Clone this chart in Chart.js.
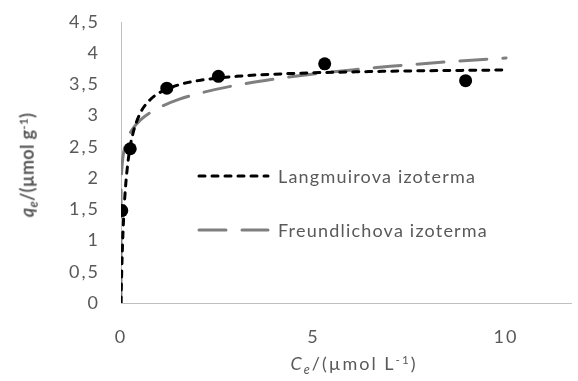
<!DOCTYPE html>
<html>
<head>
<meta charset="utf-8">
<script src="https://cdn.jsdelivr.net/npm/chart.js@4.4.1/dist/chart.umd.min.js"></script>
<style>
  html, body { margin: 0; padding: 0; background: #fff; }
  #wrap { position: relative; width: 578px; height: 381px; overflow: hidden; }
  #c { position: absolute; left: 0; top: 0; }
  .ttl { position: absolute; color: #595959; font-family: Lato, "Open Sans", sans-serif; font-size: 18px; white-space: nowrap; line-height: 1; }
  #xt { left: 354px; top: 363px; transform: translate(-50%, -50%); letter-spacing: 2px; }
  #yt { left: 27px; top: 165px; transform: translate(-50%, -50%) rotate(-90deg); font-weight: bold; letter-spacing: 0.3px; }
  .sub { font-size: 0.7em; position: relative; top: 0.3em; }
  .sup { font-size: 0.65em; position: relative; top: -0.5em; }
</style>
</head>
<body>
<div id="wrap">
  <canvas id="c" width="578" height="381"></canvas>
  <div class="ttl" id="xt"><i>C</i><i class="sub">e</i>/(µmol L<span class="sup">-1</span>)</div>
  <div class="ttl" id="yt"><i>q</i><i class="sub">e</i>/(µmol g<span class="sup">-1</span>)</div>
</div>
<script>
const expC = [0.02, 0.24, 1.19, 2.53, 5.29, 8.95];
const expQ = [1.48, 2.47, 3.44, 3.63, 3.83, 3.56];

// fitted curves
const fitC = [0, 0.001, 0.005, 0.01, 0.02, 0.05, 0.1, 0.2, 0.3, 0.5, 0.75, 1, 1.5, 2, 3, 4, 5, 6, 7, 8, 9, 10];
const langmuirQ = [0, 0.031, 0.150, 0.288, 0.535, 1.104, 1.708, 2.352, 2.690, 3.040, 3.251, 3.368, 3.494, 3.561, 3.630, 3.665, 3.687, 3.701, 3.712, 3.720, 3.726, 3.731];
const freundlichQ = [0, 1.594, 1.866, 1.997, 2.137, 2.337, 2.501, 2.677, 2.785, 2.928, 3.046, 3.133, 3.260, 3.353, 3.488, 3.588, 3.667, 3.733, 3.790, 3.840, 3.884, 3.924];

const xTicks = [0, 5, 10];
const legendNames = ['Langmuirova izoterma', 'Freundlichova izoterma'];

const FONT = 'Lato, "Open Sans", sans-serif';
const TEXT = '#595959';
const AXIS = '#bfbfbf';

const toXY = (xs, ys) => xs.map((x, i) => ({ x, y: ys[i] }));
const comma = v => String(v).replace('.', ',');

// Excel text looks loosely spaced, mimic it
const spacing = {
  id: 'spacing',
  beforeLayout(chart) { chart.ctx.letterSpacing = '2px'; },
  beforeDraw(chart) { chart.ctx.letterSpacing = '2px'; }
};

// legend drawn inside plot, Excel style
const insideLegend = {
  id: 'insideLegend',
  afterDatasetsDraw(chart) {
    const ctx = chart.ctx;
    const rows = [
      { ds: chart.data.datasets[1], y: 176 },
      { ds: chart.data.datasets[2], y: 230 }
    ];
    ctx.save();
    rows.forEach(r => {
      ctx.beginPath();
      ctx.strokeStyle = r.ds.borderColor;
      ctx.lineWidth = r.ds.borderWidth;
      ctx.lineCap = 'round';
      ctx.setLineDash(r.ds.borderDash);
      ctx.moveTo(199, r.y);
      ctx.lineTo(268, r.y);
      ctx.stroke();
      ctx.setLineDash([]);
      ctx.fillStyle = TEXT;
      ctx.font = '18px ' + FONT;
      ctx.letterSpacing = '1.2px';
      ctx.textBaseline = 'middle';
      ctx.textAlign = 'left';
      ctx.fillText(r.ds.label, 278, r.y + 1);
    });
    ctx.restore();
  }
};

new Chart(document.getElementById('c'), {
  type: 'scatter',
  data: {
    datasets: [
      {
        label: 'data',
        data: toXY(expC, expQ),
        backgroundColor: '#000',
        borderWidth: 0,
        pointRadius: 6.5,
        order: 0
      },
      {
        label: legendNames[0],
        data: toXY(fitC, langmuirQ),
        showLine: true,
        borderColor: '#000',
        borderWidth: 3,
        borderDash: [6, 7],
        borderCapStyle: 'round',
        cubicInterpolationMode: 'monotone',
        pointRadius: 0,
        order: 1
      },
      {
        label: legendNames[1],
        data: toXY(fitC, freundlichQ),
        showLine: true,
        borderColor: '#7f7f7f',
        borderWidth: 3,
        borderDash: [27, 16],
        borderCapStyle: 'round',
        cubicInterpolationMode: 'monotone',
        pointRadius: 0,
        order: 2
      }
    ]
  },
  options: {
    responsive: false,
    animation: false,
    devicePixelRatio: 1,
    layout: { padding: { top: 22, right: 0, left: 0, bottom: 0 } },
    plugins: { legend: { display: false }, tooltip: { enabled: false } },
    scales: {
      x: {
        type: 'linear',
        min: 0,
        max: 11.7,
        afterBuildTicks: s => { s.ticks = xTicks.map(v => ({ value: v })); },
        afterFit: s => { s.height = 78; s.paddingLeft = 0; s.paddingRight = 0; },
        grid: { display: false, drawTicks: false },
        border: { display: true, color: AXIS, width: 1 },
        ticks: { color: TEXT, font: { family: FONT, size: 18 }, padding: 23, callback: comma }
      },
      y: {
        min: 0,
        max: 4.5,
        afterFit: s => { s.width = 121; s.paddingTop = 0; s.paddingBottom = 0; },
        grid: { display: false, drawTicks: false },
        border: { display: true, color: AXIS, width: 1 },
        ticks: { stepSize: 0.5, color: TEXT, font: { family: FONT, size: 18 }, padding: 21, callback: comma }
      }
    }
  },
  plugins: [spacing, insideLegend]
});
</script>
</body>
</html>
